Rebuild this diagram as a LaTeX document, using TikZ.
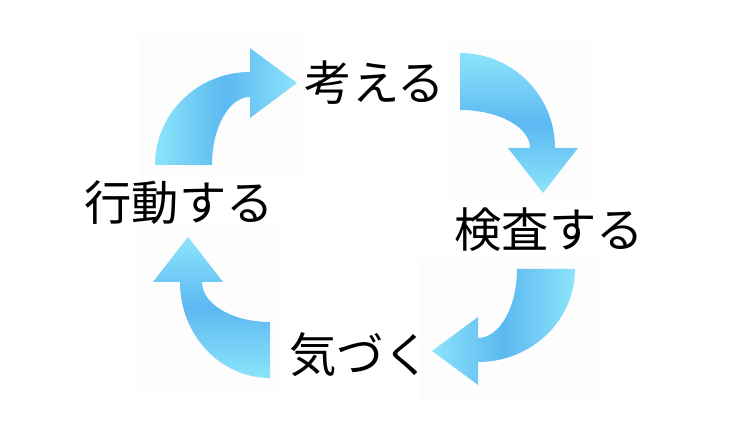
\documentclass[tikz,border=0pt]{standalone}
\usepackage{fontspec}
\newfontfamily\jpfont{Noto Sans CJK JP}
\definecolor{lightcyan}{RGB}{140,228,250}
\definecolor{midblue}{RGB}{92,184,241}
\definecolor{faintbg}{RGB}{253,253,253}
\begin{document}
\begin{tikzpicture}[x=0.75pt,y=-0.75pt,
  label/.style={inner sep=0pt,font=\jpfont\fontsize{35.5pt}{40pt}\selectfont,text=black},
  harrow/.style={left color=lightcyan,right color=lightcyan,middle color=midblue,draw=none},
  varrow/.style={top color=lightcyan,bottom color=lightcyan,middle color=midblue,draw=none},
  bgbox/.style={fill=faintbg,draw=none}]
\useasboundingbox (0,0) rectangle (733,441);
% faint backgrounds
\fill[bgbox] (140,33) rectangle (305,177);
\fill[bgbox] (450,38) rectangle (593,202);
\fill[bgbox] (420,257) rectangle (597,400);
\fill[bgbox] (137,227) rectangle (283,392);
% arrow 1: from bottom-left up to the right
\path[harrow] (155,165) arc[start angle=180,end angle=270,x radius=95,y radius=93]
  -- (250,48) -- (297,83) -- (250,118) -- (250,97)
  arc[start angle=270,end angle=180,x radius=38,y radius=68] -- cycle;
% arrow 2: from top-left to bottom-right
\path[varrow] (460,53) arc[start angle=270,end angle=360,x radius=95,y radius=95]
  -- (578,148) -- (543,193) -- (508,148) -- (530,148)
  arc[start angle=0,end angle=-90,x radius=70,y radius=38] -- cycle;
% arrow 3: from top-right down to the left
\path[harrow] (575,269) arc[start angle=0,end angle=90,x radius=97,y radius=93]
  -- (478,385) -- (432,351) -- (478,317) -- (478,338)
  arc[start angle=90,end angle=0,x radius=39,y radius=69] -- cycle;
% arrow 4: from bottom-right up to the top-left
\path[varrow] (270,378) arc[start angle=90,end angle=180,x radius=90,y radius=96]
  -- (153,282) -- (188,237) -- (223,282) -- (202,282)
  arc[start angle=180,end angle=90,x radius=68,y radius=40] -- cycle;
% labels
\node[label] (think) at (375,83) {考える};
\node[label] (check) at (549,230) {検査する};
\node[label] (notice) at (360,355) {気づく};
\node[label] (act) at (179,203) {行動する};
\end{tikzpicture}
\end{document}
